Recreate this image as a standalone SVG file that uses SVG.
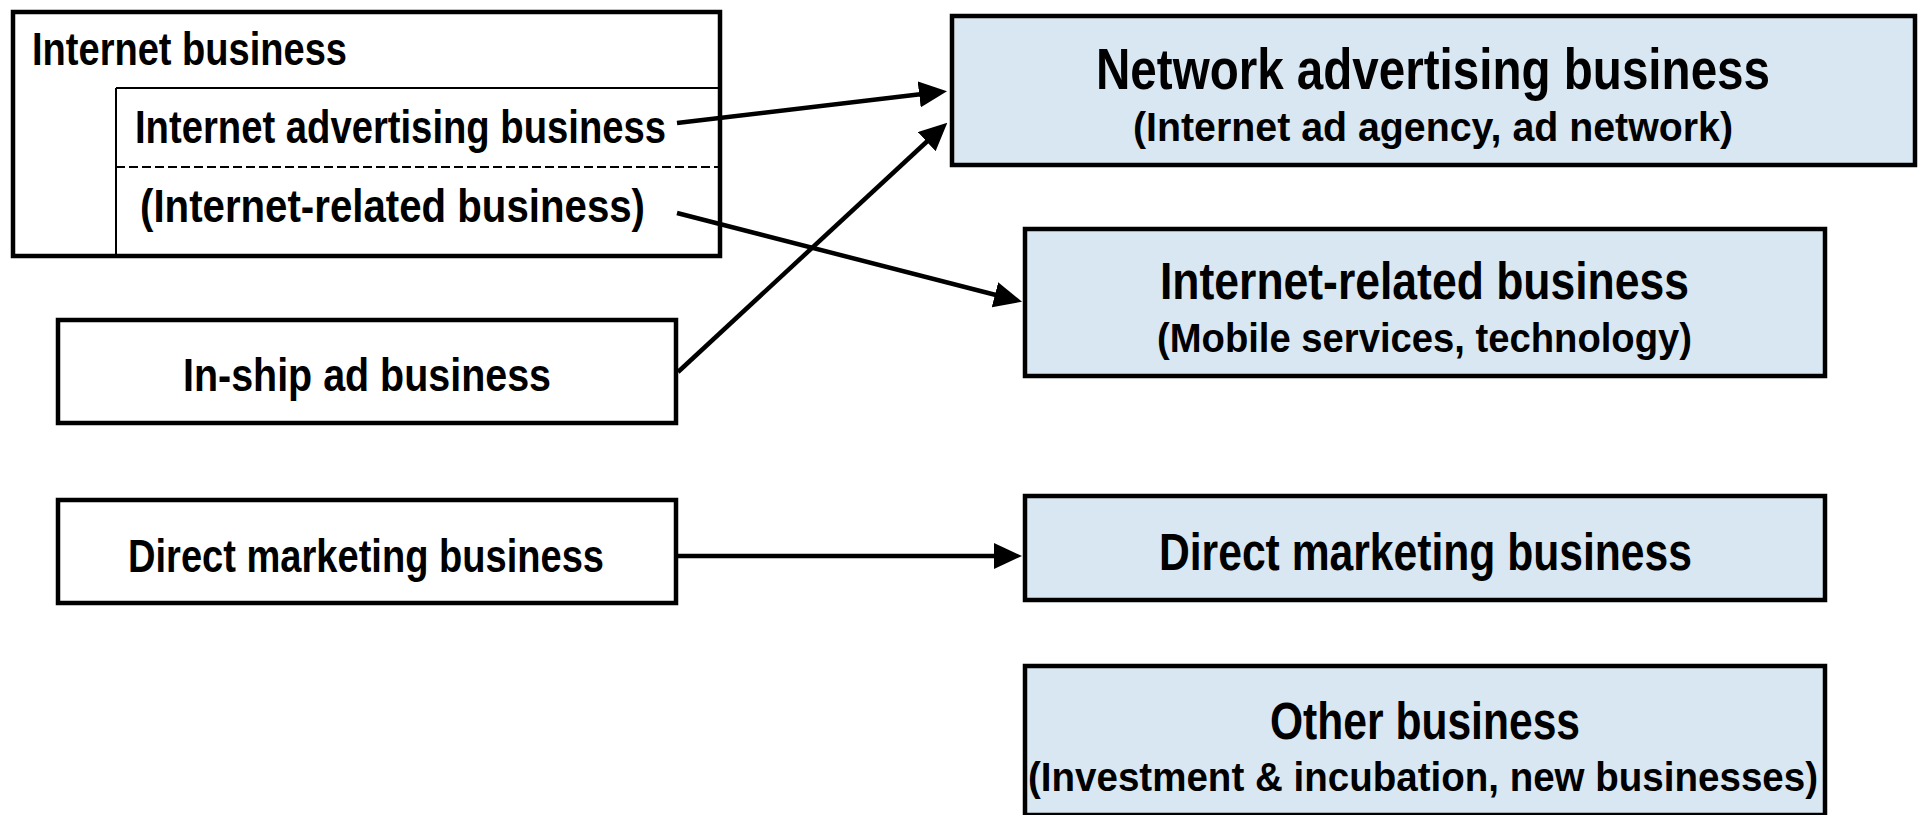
<svg xmlns="http://www.w3.org/2000/svg" width="1924" height="815" viewBox="0 0 1924 815">
<style>
text{font-family:"Liberation Sans Narrow","Liberation Sans",Arial,sans-serif;font-weight:bold;fill:#000;}
.box{fill:#fff;stroke:#000;stroke-width:4.5;}
.blue{fill:#D9E7F2;stroke:#000;stroke-width:4.5;}
.thin{stroke:#000;stroke-width:2;fill:none;}
.dash{stroke:#000;stroke-width:2;fill:none;stroke-dasharray:9 4;}
.conn{stroke:#000;stroke-width:4.5;fill:none;marker-end:url(#ah);}
.lbl{font-size:47px;}
.ttl{font-size:51px;}
.big{font-size:58px;}
.sub{font-size:40px;}
</style>
<defs>
<marker id="ah" markerUnits="userSpaceOnUse" viewBox="0 0 28 26" markerWidth="28" markerHeight="26" refX="1" refY="13" orient="auto">
<path d="M0,0 L28,13 L0,26 z" fill="#000"/>
</marker>
</defs>
<rect width="1924" height="815" fill="#fff"/>

<g id="internet-business">
<rect class="box" x="13" y="12" width="707" height="244"/>
<path class="thin" d="M116,88 H720 M116,88 V256"/>
<path class="dash" d="M116,167 H720"/>
<text class="lbl" x="32" y="65" textLength="315" lengthAdjust="spacingAndGlyphs">Internet business</text>
<text class="lbl" x="135" y="143" textLength="531" lengthAdjust="spacingAndGlyphs">Internet advertising business</text>
<text class="lbl" x="140" y="222" textLength="505" lengthAdjust="spacingAndGlyphs">(Internet-related business)</text>
</g>

<g id="inship-ad">
<rect class="box" x="58" y="320" width="618" height="103"/>
<text class="lbl" x="183" y="391" textLength="368" lengthAdjust="spacingAndGlyphs">In-ship ad business</text>
</g>

<g id="direct-marketing-left">
<rect class="box" x="58" y="500" width="618" height="103"/>
<text class="lbl" x="128" y="572" textLength="476" lengthAdjust="spacingAndGlyphs">Direct marketing business</text>
</g>

<g id="network-advertising">
<rect class="blue" x="952" y="16" width="963" height="149"/>
<text class="big" x="1096" y="89" textLength="674" lengthAdjust="spacingAndGlyphs">Network advertising business</text>
<text class="sub" x="1133" y="141" textLength="600" lengthAdjust="spacingAndGlyphs">(Internet ad agency, ad network)</text>
</g>

<g id="internet-related">
<rect class="blue" x="1025" y="229" width="800" height="147"/>
<text class="ttl" x="1160" y="299" textLength="529" lengthAdjust="spacingAndGlyphs">Internet-related business</text>
<text class="sub" x="1157" y="352" textLength="535" lengthAdjust="spacingAndGlyphs">(Mobile services, technology)</text>
</g>

<g id="direct-marketing-right">
<rect class="blue" x="1025" y="496" width="800" height="104"/>
<text class="ttl" x="1159" y="570" textLength="533" lengthAdjust="spacingAndGlyphs">Direct marketing business</text>
</g>

<g id="other-business">
<rect class="blue" x="1025" y="666" width="800" height="149"/>
<text class="ttl" x="1270" y="739" textLength="310" lengthAdjust="spacingAndGlyphs">Other business</text>
<text class="sub" x="1028" y="791" textLength="790" lengthAdjust="spacingAndGlyphs">(Investment &amp; incubation, new businesses)</text>
</g>

<g id="connectors">
<path class="conn" d="M677,123 L920.2,94.3"/>
<path class="conn" d="M677,213 L995.9,295"/>
<path class="conn" d="M678,372 L927.5,141"/>
<path class="conn" d="M678,556 L995,556"/>
</g>
</svg>
